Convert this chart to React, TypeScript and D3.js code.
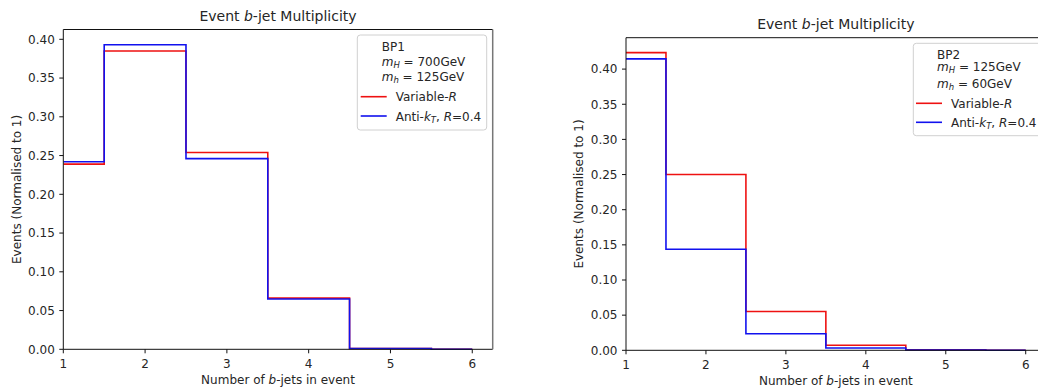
import React from "react";
import * as d3 from "d3";

// Number of b-jets per event (bin centres)
const nJets = [1, 2, 3, 4, 5, 6];

// BP1: m_H = 700 GeV, m_h = 125 GeV
const bp1VariableR = [0.239, 0.385, 0.254, 0.066, 0.001, 0.0];
const bp1AntiKt = [0.242, 0.393, 0.246, 0.065, 0.001, 0.0];

// BP2: m_H = 125 GeV, m_h = 60 GeV
const bp2VariableR = [0.4235, 0.25, 0.0553, 0.0071, 0.0008, 0.0];
const bp2AntiKt = [0.4146, 0.1437, 0.0236, 0.0033, 0.0005, 0.0];

const xTicks = [1, 2, 3, 4, 5, 6];
const yTicks = [0, 0.05, 0.1, 0.15, 0.2, 0.25, 0.3, 0.35, 0.4];

const TEXT = "#262626";
const FONT = "DejaVu Sans, sans-serif";
const RED = "#ee1111";
const BLUE = "#1111ee";

type PanelProps = {
  box: { left: number; right: number; top: number; bottom: number };
  red: number[];
  blue: number[];
  bp: string;
  mH: string;
  mh: string;
  legend: { x: number; y: number; w: number; h: number; rows: number[]; textX: number; lineX: number };
  rightSpine: boolean;
  yLabelX: number;
};

function Panel({ box, red, blue, bp, mH, mh, legend, rightSpine, yLabelX }: PanelProps) {
  const yMax = Math.max(d3.max(red)!, d3.max(blue)!) * 1.05;
  const x = d3.scaleLinear().domain([1, 6.25]).range([box.left, box.right]);
  const y = d3.scaleLinear().domain([0, yMax]).range([box.bottom, box.top]);
  const line = d3
    .line<number>()
    .x((_, i) => x(nJets[i]))
    .y((d) => y(d))
    .curve(d3.curveStep);
  const cx = (box.left + box.right) / 2;
  const cy = (box.top + box.bottom) / 2;
  const [r0, r1, r2, r3, r4] = legend.rows;
  return (
    <g fontFamily={FONT} fill={TEXT}>
      <defs>
        <clipPath id={`clip-${bp}`}>
          <rect x={box.left} y={box.top - 2} width={box.right - box.left} height={box.bottom - box.top + 4} />
        </clipPath>
      </defs>
      <g clipPath={`url(#clip-${bp})`}>
        <path d={line(red)!} fill="none" stroke={RED} strokeWidth={1.6} />
        <path d={line(blue)!} fill="none" stroke={BLUE} strokeWidth={1.6} />
      </g>
      {/* spines */}
      <line x1={box.left} x2={box.left} y1={box.top} y2={box.bottom} stroke="#111" strokeWidth={1} />
      <line x1={box.left} x2={box.right} y1={box.bottom} y2={box.bottom} stroke="#111" strokeWidth={1} />
      <line x1={box.left} x2={box.right} y1={box.top} y2={box.top} stroke="#111" strokeWidth={1} />
      {rightSpine && (
        <line x1={box.right} x2={box.right} y1={box.top} y2={box.bottom} stroke="#777" strokeWidth={1.5} />
      )}
      {/* x ticks */}
      {xTicks.map((t) => (
        <g key={`x${t}`}>
          <line x1={x(t)} x2={x(t)} y1={box.bottom} y2={box.bottom + 4} stroke="#111" />
          <text x={x(t)} y={box.bottom + 18.5} textAnchor="middle" fontSize={12}>
            {t}
          </text>
        </g>
      ))}
      {/* y ticks */}
      {yTicks.map((t) => (
        <g key={`y${t}`}>
          <line x1={box.left - 4} x2={box.left} y1={y(t)} y2={y(t)} stroke="#111" />
          <text x={box.left - 8.5} y={y(t) + 4.3} textAnchor="end" fontSize={12}>
            {d3.format(".2f")(t)}
          </text>
        </g>
      ))}
      {/* title */}
      <text x={cx} y={box.top - 8.5} textAnchor="middle" fontSize={14}>
        Event <tspan fontStyle="italic">b</tspan>-jet Multiplicity
      </text>
      {/* axis labels */}
      <text x={cx} y={box.bottom + 35} textAnchor="middle" fontSize={12}>
        Number of <tspan fontStyle="italic">b</tspan>-jets in event
      </text>
      <text
        transform={`translate(${yLabelX},${cy}) rotate(-90)`}
        textAnchor="middle"
        fontSize={12}
      >
        Events (Normalised to 1)
      </text>
      {/* legend */}
      <rect
        x={legend.x}
        y={legend.y}
        width={legend.w}
        height={legend.h}
        rx={3}
        fill="#fff"
        fillOpacity={0.8}
        stroke="#d0d0d0"
        strokeWidth={1}
      />
      <text x={legend.textX} y={r0 + 4.5} fontSize={12}>
        {bp}
      </text>
      <text x={legend.textX} y={r1 + 4.5} fontSize={12}>
        <tspan fontStyle="italic">m</tspan>
        <tspan fontStyle="italic" fontSize={8.5} dy={2}>H</tspan>
        <tspan dy={-2}> = {mH}GeV</tspan>
      </text>
      <text x={legend.textX} y={r2 + 4.5} fontSize={12}>
        <tspan fontStyle="italic">m</tspan>
        <tspan fontStyle="italic" fontSize={8.5} dy={2}>h</tspan>
        <tspan dy={-2}> = {mh}GeV</tspan>
      </text>
      <line x1={legend.lineX} x2={legend.lineX + 26} y1={r3} y2={r3} stroke={RED} strokeWidth={1.6} />
      <text x={legend.lineX + 35} y={r3 + 4.5} fontSize={12}>
        Variable-<tspan fontStyle="italic">R</tspan>
      </text>
      <line x1={legend.lineX} x2={legend.lineX + 26} y1={r4} y2={r4} stroke={BLUE} strokeWidth={1.6} />
      <text x={legend.lineX + 35} y={r4 + 4.5} fontSize={12}>
        Anti-<tspan fontStyle="italic">k</tspan>
        <tspan fontStyle="italic" fontSize={8.5} dy={2}>T</tspan>
        <tspan dy={-2}>, </tspan>
        <tspan fontStyle="italic">R</tspan>=0.4
      </text>
    </g>
  );
}

export default function App() {
  return (
    <svg
      width={1038}
      height={388}
      style={{ position: "absolute", left: 0, top: 0, background: "#fff" }}
    >
      <rect width={1038} height={388} fill="#fff" />
      <Panel
        box={{ left: 63.3, right: 492.7, top: 29.5, bottom: 349.3 }}
        red={bp1VariableR}
        blue={bp1AntiKt}
        bp="BP1"
        mH="700"
        mh="125"
        legend={{ x: 357.3, y: 35, w: 129.4, h: 95, rows: [46, 61, 76.7, 96.7, 116], textX: 381.7, lineX: 360.7 }}
        rightSpine={true}
        yLabelX={20.5}
      />
      <Panel
        box={{ left: 626, right: 1045.7, top: 37.7, bottom: 350.3 }}
        red={bp2VariableR}
        blue={bp2AntiKt}
        bp="BP2"
        mH="125"
        mh="60"
        legend={{ x: 913.3, y: 43.3, w: 140, h: 92.4, rows: [54, 66.7, 83.3, 103.3, 122.3], textX: 937, lineX: 916 }}
        rightSpine={false}
        yLabelX={583}
      />
    </svg>
  );
}
